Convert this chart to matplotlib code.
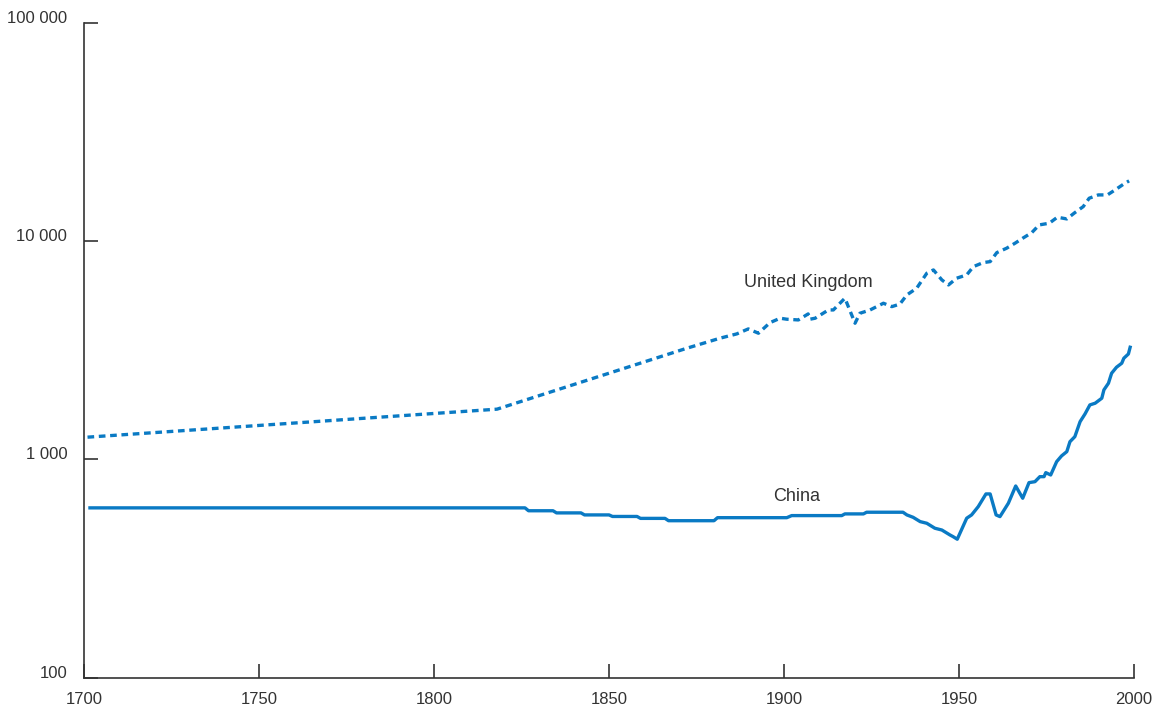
import matplotlib
matplotlib.use("Agg")
import matplotlib.pyplot as plt
import matplotlib.transforms as mtransforms
from matplotlib.ticker import FixedLocator, FixedFormatter, NullLocator

# GDP per capita (1990 international dollars)
uk_years = [1701, 1818, 1872.2, 1877.9, 1881.7, 1886.5, 1889.8, 1892.7, 1896,
            1898.9, 1900.8, 1904.1, 1906.9, 1907.4, 1908.9, 1912.7, 1914.1,
            1917.4, 1920.3, 1921.7, 1924.6, 1928.4, 1930.8, 1933.1, 1935.1,
            1937.9, 1940.8, 1942.7, 1945.1, 1947, 1949.3, 1952.2, 1954.1,
            1956.9, 1958.9, 1960.8, 1963.6, 1966, 1968.2, 1970.8, 1972.9,
            1975.8, 1978.1, 1980.8, 1983.1, 1985.5, 1987.2, 1989.8, 1992.4,
            1994.9, 1997.4, 1998.6]
uk_values = [1265, 1700, 3232, 3444, 3594, 3761, 3964, 3788, 4236,
             4438, 4391, 4358, 4644, 4391, 4438, 4843, 4843,
             5481, 4210, 4677, 4843, 5198, 5015, 5150, 5675,
             6088, 7135, 7386, 6649, 6305, 6768, 7008, 7648,
             7980, 8064, 8867, 9288, 9791, 10320, 10950, 11877,
             12092, 12882, 12653, 13522, 14411, 15743, 16300, 16300,
             17310, 18440, 18900]

china_years = [1701.7, 1826, 1827, 1834, 1835, 1842, 1843, 1850, 1851, 1858,
               1859, 1866, 1867, 1880, 1881, 1900.8, 1902.2, 1916.5, 1917.4,
               1922.7, 1923.6, 1934, 1935.1, 1936.9, 1938.9, 1940.8, 1943.1,
               1945.1, 1947.4, 1948.3, 1949.5, 1952.2, 1953.6, 1955.5, 1957.7,
               1958.9, 1960.6, 1961.7, 1964.1, 1966.2, 1968.2, 1970, 1971.7,
               1973.1, 1974.3, 1974.8, 1976.2, 1977.9, 1979.3, 1980.8, 1981.7,
               1983.1, 1984.6, 1986, 1987.4, 1988.9, 1990.8, 1991.4, 1992.7,
               1993.6, 1995, 1996.5, 1997.1, 1998.4, 1998.9]
china_values = [600, 600, 582, 582, 569, 569, 557, 557, 548, 548,
                537, 537, 524, 524, 541, 541, 553, 553, 563,
                563, 573, 573, 557, 543, 519, 510, 484,
                475, 451, 443, 431, 538, 557, 608, 695,
                695, 557, 547, 630, 756, 664, 783, 791,
                834, 834, 870, 849, 977, 1038, 1086, 1206,
                1272, 1490, 1616, 1778, 1810, 1908, 2083, 2235,
                2483, 2646, 2760, 2910, 3043, 3267]

x_ticks = [1700, 1750, 1800, 1850, 1900, 1950, 2000]
y_ticks = [100, 1000, 10000, 100000]
y_tick_labels = ["100", "1 000", "10 000", "100 000"]

blue = "#0a7ac4"
ink = "#333333"

plt.rcParams["font.family"] = ["Liberation Sans", "DejaVu Sans"]

fig = plt.figure(figsize=(11.62, 7.12), dpi=100)
ax = fig.add_axes([0.0723, 0.0482, 0.9036, 0.9195])

ax.plot(uk_years, uk_values, color=blue, lw=2.4, linestyle=(0, (2.0, 1.4)),
        dash_capstyle="butt", dash_joinstyle="round")
ax.plot(china_years, china_values, color=blue, lw=2.4, solid_joinstyle="round")

ax.set_yscale("log")
ax.set_xlim(1700, 2000)
ax.set_ylim(100, 100000)

ax.xaxis.set_major_locator(FixedLocator(x_ticks))
ax.yaxis.set_major_locator(FixedLocator(y_ticks))
ax.yaxis.set_major_formatter(FixedFormatter(y_tick_labels))
ax.yaxis.set_minor_locator(NullLocator())

for side in ["top", "right"]:
    ax.spines[side].set_visible(False)
for side in ["left", "bottom"]:
    ax.spines[side].set_color(ink)
    ax.spines[side].set_linewidth(1.2)

ax.tick_params(axis="both", direction="in", length=10, width=1.2, color=ink,
               labelcolor=ink, labelsize=12)
ax.tick_params(axis="y", pad=12)
ax.tick_params(axis="x", pad=10)

# y labels sit a little above their ticks
shift = mtransforms.ScaledTranslation(0, 6 / 100, fig.dpi_scale_trans)
for lab in ax.get_yticklabels():
    lab.set_transform(lab.get_transform() + shift)

ax.text(1906.9, 6442, "United Kingdom", fontsize=13, color=ink,
        ha="center", va="center")
ax.text(1903.7, 673, "China", fontsize=13, color=ink, ha="center", va="center")

fig.savefig("out.png", dpi=100)
